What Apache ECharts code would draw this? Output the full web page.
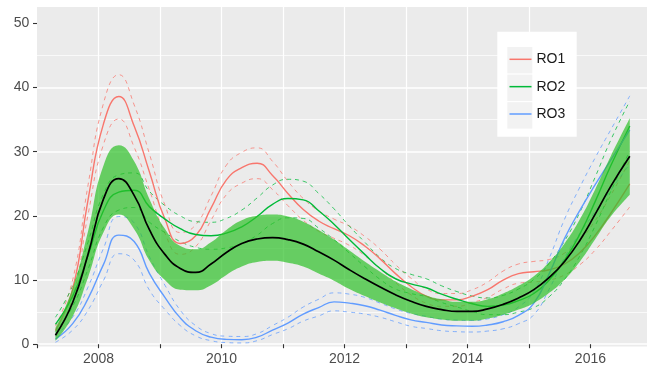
<!DOCTYPE html>
<html><head><meta charset="utf-8">
<script src="https://cdn.jsdelivr.net/npm/echarts@6/dist/echarts.min.js"></script>
<style>html,body{margin:0;padding:0;background:#fff}#c{width:647px;height:367px}</style>
</head><body><div id="c"></div>
<script>
// ---- data ----
const years = [2007.3, 2007.58, 2007.83, 2008.08, 2008.33, 2008.58, 2008.83, 2009.08, 2009.33, 2009.58, 2009.83, 2010.08, 2010.33, 2010.58, 2010.83, 2011.08, 2011.33, 2011.58, 2011.83, 2012.08, 2012.33, 2012.58, 2012.83, 2013.08, 2013.33, 2013.58, 2013.83, 2014.08, 2014.33, 2014.58, 2014.83, 2015.08, 2015.33, 2015.58, 2015.83, 2016.08, 2016.33, 2016.64];

const meanLine = [1.4, 6.5, 14.0, 22.6, 25.8, 23.2, 17.8, 14.0, 11.8, 11.2, 12.5, 14.3, 15.7, 16.4, 16.6, 16.3, 15.6, 14.4, 13.1, 11.6, 10.2, 8.9, 7.7, 6.7, 5.9, 5.4, 5.1, 5.1, 5.5, 6.2, 7.2, 8.5, 10.4, 12.9, 16.2, 20.3, 24.6, 29.3];
const ribbonUpper = [2.5, 8.7, 17.6, 27.8, 31.0, 28.5, 22.6, 18.0, 15.3, 14.8, 15.9, 17.8, 19.3, 20.0, 20.2, 19.9, 19.1, 17.8, 16.3, 14.6, 12.9, 11.3, 9.8, 8.6, 7.6, 7.0, 6.6, 6.6, 7.0, 7.9, 9.1, 10.6, 12.8, 15.7, 19.5, 24.2, 29.3, 35.2];
const ribbonLower = [0.5, 4.3, 10.4, 17.4, 20.2, 17.9, 13.0, 10.0, 8.5, 8.4, 9.2, 10.8, 12.1, 12.8, 13.0, 12.7, 12.1, 11.0, 9.9, 8.6, 7.5, 6.5, 5.6, 4.8, 4.2, 3.85, 3.65, 3.65, 4.0, 4.6, 5.4, 6.4, 8.0, 10.1, 12.9, 16.4, 19.9, 23.3];

const ro1 = [2.1, 8.6, 22.5, 34.3, 38.6, 34.0, 26.8, 19.5, 15.7, 16.9, 21.2, 25.6, 27.5, 28.2, 26.3, 23.5, 21.0, 19.2, 18.0, 16.9, 15.3, 13.3, 11.0, 9.0, 7.5, 6.9, 6.9, 7.5, 8.5, 10.0, 11.0, 11.3, 11.6, 12.5, 14.3, 17.0, 20.4, 25.0];
const ro1Upper = [2.8, 10.0, 24.8, 37.5, 42.0, 37.3, 29.6, 21.7, 17.4, 18.6, 23.1, 27.9, 29.9, 30.6, 28.5, 25.4, 22.7, 20.8, 19.5, 18.4, 16.8, 14.8, 12.4, 10.3, 8.6, 7.9, 7.9, 8.5, 9.7, 11.4, 12.5, 12.9, 13.2, 14.2, 16.2, 19.3, 23.2, 28.6];
const ro1Lower = [1.4, 7.2, 20.2, 31.1, 35.1, 30.7, 24.0, 17.3, 14.0, 15.2, 19.3, 23.3, 25.1, 25.8, 24.1, 21.6, 19.3, 17.6, 16.5, 15.4, 13.8, 11.8, 9.6, 7.7, 6.4, 5.9, 5.9, 6.5, 7.3, 8.6, 9.5, 9.7, 10.0, 10.8, 12.4, 14.7, 17.6, 21.4];

const ro2 = [3.1, 7.5, 13.8, 20.8, 23.7, 24.0, 21.4, 19.5, 18.0, 17.1, 16.9, 17.3, 18.3, 19.9, 21.8, 22.7, 22.5, 20.8, 18.7, 16.3, 14.0, 11.8, 10.2, 9.4, 8.8, 7.8, 7.0, 6.3, 5.9, 6.1, 6.8, 7.9, 10.0, 13.1, 17.2, 22.3, 27.8, 34.0];
const ro2Upper = [4.2, 9.1, 15.9, 23.4, 26.4, 26.7, 23.8, 21.6, 20.0, 19.1, 19.0, 19.6, 20.9, 22.8, 24.8, 25.7, 25.4, 23.5, 21.1, 18.4, 15.9, 13.5, 11.8, 10.9, 10.2, 9.1, 8.2, 7.5, 7.2, 7.6, 8.6, 10.1, 12.6, 16.1, 20.6, 26.1, 31.8, 37.9];
const ro2Lower = [2.0, 5.9, 11.7, 18.2, 20.9, 21.3, 19.0, 17.4, 16.0, 15.1, 14.8, 15.0, 15.7, 17.0, 18.8, 19.7, 19.6, 18.1, 16.3, 14.2, 12.1, 10.1, 8.6, 7.9, 7.4, 6.5, 5.8, 5.1, 4.6, 4.6, 5.0, 5.7, 7.4, 10.1, 13.8, 18.5, 23.8, 30.1];

const ro3 = [0.8, 3.2, 7.1, 12.4, 17.0, 16.0, 11.0, 7.3, 4.1, 2.1, 1.1, 0.75, 0.7, 1.1, 2.2, 3.3, 4.7, 5.7, 6.6, 6.4, 6.0, 5.3, 4.5, 3.8, 3.4, 3.0, 2.85, 2.8, 3.0, 3.5, 4.5, 6.4, 11.0, 16.5, 20.9, 24.9, 28.7, 33.4];
const ro3Upper = [1.3, 4.2, 8.9, 14.9, 19.9, 18.9, 13.6, 9.2, 5.3, 2.9, 1.65, 1.25, 1.2, 1.65, 2.9, 4.2, 5.8, 7.0, 8.0, 7.8, 7.3, 6.4, 5.5, 4.8, 4.35, 3.9, 3.75, 3.7, 3.95, 4.6, 5.8, 8.2, 13.4, 19.5, 24.5, 29.1, 33.4, 38.7];
const ro3Lower = [0.3, 2.2, 5.3, 9.9, 14.1, 13.1, 8.4, 5.4, 2.9, 1.3, 0.55, 0.25, 0.2, 0.55, 1.5, 2.4, 3.6, 4.4, 5.2, 5.0, 4.7, 4.2, 3.5, 2.8, 2.45, 2.1, 1.95, 1.9, 2.05, 2.4, 3.2, 4.6, 8.6, 13.5, 17.3, 20.7, 24.0, 28.1];

const seriesNames = ['RO1', 'RO2', 'RO3'];
const yTicks = [0, 10, 20, 30, 40, 50];
const xTickYears = [2007, 2008, 2009, 2010, 2011, 2012, 2013, 2014, 2015, 2016];
const xLabelYears = [2008, 2010, 2012, 2014, 2016];

// ---- build options ----
const YEAR_MS = 31557600000;
const X_MIN = 2007, X_MAX = 2016.92;
const colors = ['#F8766D', '#00BA38', '#619CFF'];
const SMOOTH = 0.5;
const pts = v => years.map((y, i) => [y, v[i]]);
const tpts = v => years.map((y, i) => [y * YEAR_MS, v[i]]);

function lineSeries(name, vals, color, dashed) {
  return {
    type: 'line', name: name, data: pts(vals), smooth: SMOOTH, showSymbol: false, symbol: 'none',
    silent: true, color: color, itemStyle: { color: color },
    lineStyle: dashed ? { color: color, width: 0.9, type: [4, 4], opacity: 0.85 }
                      : { color: color, width: 1.4 },
    z: 2
  };
}

const groups = [[ro1, ro1Upper, ro1Lower], [ro2, ro2Upper, ro2Lower], [ro3, ro3Upper, ro3Lower]];
const series = [];
groups.forEach((g, k) => {
  series.push(lineSeries(seriesNames[k] + ' upper', g[1], colors[k], true));
  series.push(lineSeries(seriesNames[k] + ' lower', g[2], colors[k], true));
});
groups.forEach((g, k) => series.push(lineSeries(seriesNames[k], g[0], colors[k], false)));

// ribbon (stacked on a time-type twin x axis so the stack runs along y)
series.push({
  type: 'line', name: 'ribbonBase', xAxisIndex: 1, data: tpts(ribbonLower), stack: 'rib',
  smooth: SMOOTH, showSymbol: false, symbol: 'none', silent: true,
  lineStyle: { width: 0, opacity: 0 }, z: 3
});
series.push({
  type: 'line', name: 'ribbon', xAxisIndex: 1,
  data: years.map((y, i) => [y * YEAR_MS, ribbonUpper[i] - ribbonLower[i]]), stack: 'rib',
  smooth: SMOOTH, showSymbol: false, symbol: 'none', silent: true,
  lineStyle: { width: 0, opacity: 0 },
  areaStyle: { color: 'rgba(45,192,40,0.7)', opacity: 1 }, z: 3
});
series.push({
  type: 'line', name: 'mean', data: pts(meanLine), smooth: SMOOTH, showSymbol: false, symbol: 'none',
  silent: true, color: '#000', lineStyle: { color: '#000', width: 1.7 }, z: 4
});

const FONT = '"Liberation Sans", Arial, Helvetica, sans-serif';
const option = {
  animation: false,
  useUTC: true,
  textStyle: { fontFamily: FONT },
  grid: { left: 37, right: 0, top: 7, bottom: 22.8, containLabel: false },
  graphic: [
    { type: 'rect', z: -10, shape: { x: 37, y: 7, width: 610, height: 339.5 }, style: { fill: '#EBEBEB' } },
    { type: 'rect', z: 5, shape: { x: 497.3, y: 31.7, width: 79.4, height: 105 }, style: { fill: '#FFFFFF' } },
    { type: 'rect', z: 6, shape: { x: 507.3, y: 47, width: 25, height: 26.4 }, style: { fill: '#F2F2F2' } },
    { type: 'rect', z: 6, shape: { x: 507.3, y: 74.6, width: 25, height: 26.4 }, style: { fill: '#F2F2F2' } },
    { type: 'rect', z: 6, shape: { x: 507.3, y: 102.2, width: 25, height: 26.4 }, style: { fill: '#F2F2F2' } }
  ],
  xAxis: [
    {
      type: 'value', min: X_MIN, max: X_MAX, interval: 1,
      axisLine: { show: false },
      axisTick: { show: true, length: 4, customValues: xTickYears, lineStyle: { color: '#333333', width: 1.1 } },
      axisLabel: {
        customValues: xLabelYears, color: '#4D4D4D', fontSize: 14, margin: 7.5, fontFamily: FONT,
        formatter: v => (Math.round(v) === v && v % 2 === 0) ? String(v) : ''
      },
      splitLine: { show: true, showMinLine: false, showMaxLine: false, lineStyle: { color: '#FFFFFF', width: 1.2 } }
    },
    { type: 'time', show: false, min: X_MIN * YEAR_MS, max: X_MAX * YEAR_MS }
  ],
  yAxis: {
    type: 'value', min: 0, max: 52.55, interval: 10,
    axisLine: { show: false },
    axisTick: { show: true, length: 4, customValues: yTicks, lineStyle: { color: '#333333', width: 1.1 } },
    axisLabel: {
      customValues: yTicks, color: '#4D4D4D', fontSize: 14, margin: 7.7, fontFamily: FONT,
      formatter: v => (v % 10 === 0) ? String(v) : ''
    },
    splitLine: { show: true, showMaxLine: false, lineStyle: { color: '#FFFFFF', width: 1.5 } },
    minorTick: { show: false, splitNumber: 2 },
    minorSplitLine: { show: true, lineStyle: { color: '#FFFFFF', width: 0.7 } }
  },
  legend: {
    data: seriesNames, orient: 'vertical', left: 509.5, top: 51.3, padding: 0,
    itemWidth: 22, itemHeight: 1.5, itemGap: 11.35, icon: 'rect', selectedMode: false, z: 10,
    textStyle: { fontSize: 14, color: '#1A1A1A', lineHeight: 16, fontFamily: FONT }
  },
  series: series
};

const chart = echarts.init(document.getElementById('c'), null, { renderer: 'canvas' });
chart.setOption(option);
</script>
</body></html>
